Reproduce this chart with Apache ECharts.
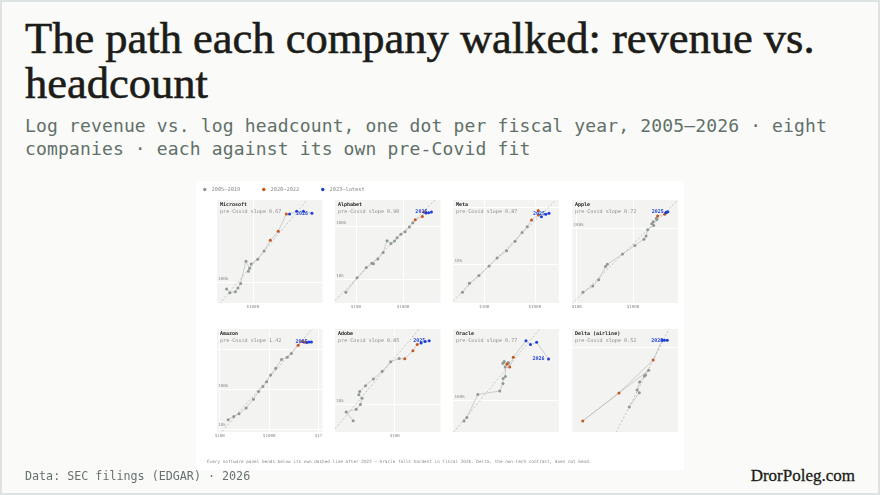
<!DOCTYPE html>
<html>
<head>
<meta charset="utf-8">
<title>The path each company walked: revenue vs. headcount</title>
<script src="https://cdn.jsdelivr.net/npm/echarts@6/dist/echarts.min.js"></script>
<style>
  html, body { margin: 0; padding: 0; }
  body { width: 880px; height: 495px; overflow: hidden; }
  .page { position: relative; width: 880px; height: 495px; background: #fafaf9; box-shadow: inset 0 0 0 2px #dde3e2; }
  h1 { position: absolute; left: 25px; top: 16px; margin: 0; font-family: 'Liberation Serif', serif; font-weight: normal; font-size: 44.5px; line-height: 45px; color: #1c1c18; white-space: nowrap; -webkit-text-stroke: 0.6px #1c1c18; }
  .sub { position: absolute; left: 25px; top: 115px; margin: 0; font-family: 'DejaVu Sans Mono', monospace; font-size: 18px; line-height: 22.5px; letter-spacing: 0.15px; color: #617068; white-space: nowrap; }
  .source { position: absolute; left: 25px; top: 469px; font-family: 'DejaVu Sans Mono', monospace; font-size: 11.7px; line-height: 14px; color: #66716e; }
  .brand { position: absolute; right: 25px; top: 466px; font-family: 'Liberation Serif', serif; font-size: 17px; line-height: 20px; color: #1c1c18; -webkit-text-stroke: 0.3px #1c1c18; }
  #chart { position: absolute; left: 196px; top: 181px; width: 488px; height: 289px; background: #fff; }
</style>
</head>
<body>
<div class="page">
  <h1>The path each company walked: revenue vs.<br>headcount</h1>
  <p class="sub">Log revenue vs. log headcount, one dot per fiscal year, 2005–2026 · eight<br>companies · each against its own pre-Covid fit</p>
  <div id="chart"></div>
  <div class="source">Data: SEC filings (EDGAR) · 2026</div>
  <div class="brand">DrorPoleg.com</div>
</div>
<script>
// revenue in $B, headcount in thousands, one entry per fiscal year
const eraLabels = ['2005–2019', '2020–2022', '2023–latest'];
const eraColors = ['#8e9894', '#c5561d', '#1d3fd6'];

const companyNames = ['Microsoft', 'Alphabet', 'Meta', 'Apple', 'Amazon', 'Adobe', 'Oracle', 'Delta (airline)'];
const preCovidSlope = [0.67, 0.90, 0.87, 0.72, 1.42, 0.85, 0.77, 0.52];

const msftYears = [2009, 2010, 2011, 2012, 2013, 2014, 2015, 2016, 2017, 2018, 2019, 2020, 2021, 2022, 2023, 2024, 2025, 2026];
const msftRevenue = [58.4, 62.5, 69.9, 73.7, 77.8, 86.8, 93.6, 91.2, 96.6, 110.4, 125.8, 143.0, 168.1, 198.3, 211.9, 245.1, 281.7, 335.0];
const msftHeadcount = [93, 89, 90, 94, 99, 128, 118, 114, 124, 131, 144, 163, 181, 221, 221, 228, 228, 223];

const googYears = [2005, 2006, 2007, 2008, 2009, 2010, 2011, 2012, 2013, 2014, 2015, 2016, 2017, 2018, 2019, 2020, 2021, 2022, 2023, 2024, 2025];
const googRevenue = [6.14, 10.6, 16.6, 21.8, 23.65, 29.3, 37.9, 46.0, 55.5, 66.0, 75.0, 90.3, 110.9, 136.8, 161.9, 182.5, 257.6, 282.8, 307.4, 350.0, 402.0];
const googHeadcount = [5.68, 10.67, 16.8, 20.2, 19.8, 24.4, 32.5, 53.9, 47.8, 53.6, 61.8, 72.0, 80.1, 98.8, 118.9, 135.3, 156.5, 190.2, 182.5, 183.3, 190.8];

const metaYears = [2011, 2012, 2013, 2014, 2015, 2016, 2017, 2018, 2019, 2020, 2021, 2022, 2023, 2024, 2025];
const metaRevenue = [3.71, 5.09, 7.87, 12.47, 17.93, 27.64, 40.65, 55.84, 70.7, 86.0, 117.9, 116.6, 134.9, 164.5, 190.0];
const metaHeadcount = [3.2, 4.6, 6.3, 9.2, 12.7, 17.0, 25.1, 35.6, 44.9, 58.6, 72.0, 86.5, 67.3, 74.1, 77.0];

const aaplYears = [2005, 2006, 2007, 2008, 2009, 2010, 2011, 2012, 2013, 2014, 2015, 2016, 2017, 2018, 2019, 2020, 2021, 2022, 2023, 2024, 2025];
const aaplRevenue = [12.9, 19.3, 24.6, 32.5, 35.0, 65.2, 108.2, 156.5, 170.9, 182.8, 233.7, 215.6, 229.2, 265.6, 260.2, 274.5, 365.8, 394.3, 383.3, 391.0, 416.2];
const aaplHeadcount = [14.8, 17.8, 21.6, 32.0, 34.3, 46.6, 60.4, 72.8, 80.3, 97.0, 110.0, 116.0, 123.0, 132.0, 137.0, 147.0, 154.0, 164.0, 161.0, 164.0, 166.0];

const amznYears = [2007, 2008, 2009, 2010, 2011, 2012, 2013, 2014, 2015, 2016, 2017, 2018, 2019, 2020, 2021, 2022, 2023, 2024, 2025];
const amznRevenue = [14.8, 19.2, 24.5, 34.2, 48.1, 61.1, 74.5, 89.0, 107.0, 136.0, 177.9, 232.9, 280.5, 386.1, 469.8, 514.0, 574.8, 638.0, 717.0];
const amznHeadcount = [17.0, 20.7, 24.3, 33.7, 56.2, 88.4, 117.3, 154.1, 230.8, 341.4, 566.0, 647.5, 798.0, 1298.0, 1608.0, 1541.0, 1525.0, 1556.0, 1576.0];

const adbeYears = [2008, 2009, 2010, 2011, 2012, 2013, 2014, 2015, 2016, 2017, 2018, 2019, 2020, 2021, 2022, 2023, 2024, 2025];
const adbeRevenue = [3.52, 2.95, 3.80, 4.22, 4.40, 4.06, 4.15, 4.80, 5.85, 7.30, 9.03, 11.17, 12.87, 15.79, 17.61, 19.41, 21.51, 23.77];
const adbeHeadcount = [7.4, 8.66, 9.1, 9.9, 11.1, 11.8, 12.5, 13.9, 15.7, 17.97, 21.4, 22.6, 22.5, 26.0, 29.2, 29.9, 30.7, 31.2];

const orclYears = [2008, 2009, 2010, 2011, 2012, 2013, 2014, 2015, 2016, 2017, 2018, 2019, 2020, 2021, 2022, 2023, 2024, 2025, 2026];
const orclRevenue = [22.4, 23.25, 26.8, 35.6, 37.1, 37.2, 38.3, 38.2, 37.05, 37.7, 39.8, 39.5, 39.07, 40.5, 42.4, 50.0, 53.0, 57.4, 67.0];
const orclHeadcount = [84.2, 86.7, 105, 108, 115, 120, 122, 132, 136, 138, 137, 136, 135, 132, 143, 164, 159, 162, 141];

const dalYears = [2013, 2014, 2015, 2016, 2017, 2018, 2019, 2020, 2021, 2022, 2023, 2024, 2025];
const dalRevenue = [35.0, 40.9, 39.5, 41.1, 44.2, 45.0, 47.2, 17.1, 29.9, 50.6, 58.1, 60.2, 62.9];
const dalHeadcount = [78.3, 83.1, 84.0, 86.8, 89.0, 89.3, 91.1, 74.0, 83.0, 95.0, 103, 103, 103];

const companies = [
  { years: msftYears, revenue: msftRevenue, headcount: msftHeadcount },
  { years: googYears, revenue: googRevenue, headcount: googHeadcount },
  { years: metaYears, revenue: metaRevenue, headcount: metaHeadcount },
  { years: aaplYears, revenue: aaplRevenue, headcount: aaplHeadcount },
  { years: amznYears, revenue: amznRevenue, headcount: amznHeadcount },
  { years: adbeYears, revenue: adbeRevenue, headcount: adbeHeadcount },
  { years: orclYears, revenue: orclRevenue, headcount: orclHeadcount },
  { years: dalYears, revenue: dalRevenue, headcount: dalHeadcount }
];

// each panel has its own log window ($B across, thousands up)
const axisWindows = [
  { x: [48, 416], y: [79, 260] },
  { x: [3.6, 627], y: [3.55, 322] },
  { x: [2.45, 297], y: [2.08, 131.5] },
  { x: [8.35, 626], y: [10.7, 237] },
  { x: [8.8, 1200], y: [8.35, 3334] },
  { x: [2.23, 31.6], y: [6.04, 38.5] },
  { x: [19.5, 76.5], y: [76.8, 181] },
  { x: [14.55, 74.0], y: [70.7, 107.9] }
];

const panelLeft = [21, 139, 257.3, 376.3];
const panelTop = [19, 148];
const panelWidth = 105.5;
const panelHeight = 103;
const mono = '"DejaVu Sans Mono", monospace';

function eraOf(year) {
  if (year <= 2019) return 0;
  if (year <= 2022) return 1;
  return 2;
}

function isPow10(v) {
  const p = Math.log10(v);
  return Math.abs(p - Math.round(p)) < 1e-6;
}

function revenueLabel(v) {
  if (!isPow10(v)) return '';
  return v >= 1000 ? '$' + Math.round(v / 1000) + 'T' : '$' + Math.round(v) + 'B';
}

function headcountLabel(win) {
  return function (v) {
    if (!isPow10(v)) return '';
    const f = (Math.log10(v) - Math.log10(win[0])) / (Math.log10(win[1]) - Math.log10(win[0]));
    if (f > 0.76) return ''; // would sit under the panel title
    return v >= 1000 ? Math.round(v / 1000) + 'M' : Math.round(v) + 'k';
  };
}

var dom = document.getElementById('chart');
var myChart = echarts.init(dom, null, { renderer: 'canvas' });

const grids = [], xAxes = [], yAxes = [], series = [], graphics = [];

companies.forEach(function (c, i) {
  const left = panelLeft[i % 4];
  const top = panelTop[Math.floor(i / 4)];
  const win = axisWindows[i];

  grids.push({
    left: left, top: top, width: panelWidth, height: panelHeight,
    show: true, backgroundColor: '#f3f3f1', borderWidth: 0,
    containLabel: false, outerBoundsMode: 'none'
  });

  xAxes.push({
    type: 'log', logBase: 10, gridIndex: i, min: win.x[0], max: win.x[1],
    axisLine: { show: false }, axisTick: { show: false },
    splitLine: { show: true, showMinLine: false, showMaxLine: false, lineStyle: { color: '#ffffff', width: 1 } },
    axisLabel: { formatter: revenueLabel, fontSize: 4.2, color: '#8c8c8c', fontFamily: mono, margin: 2 }
  });

  yAxes.push({
    type: 'log', logBase: 10, gridIndex: i, min: win.y[0], max: win.y[1],
    axisLine: { show: false }, axisTick: { show: false },
    splitLine: { show: true, showMinLine: false, showMaxLine: false, lineStyle: { color: '#ffffff', width: 1 } },
    axisLabel: {
      inside: true, formatter: headcountLabel(win.y), fontSize: 4.2, color: '#8c8c8c',
      fontFamily: mono, margin: 1.3, verticalAlign: 'bottom', lineHeight: 7
    }
  });

  const pts = c.years.map(function (y, k) { return [c.revenue[k], c.headcount[k]]; });

  // the walk, year by year
  series.push({
    type: 'line', xAxisIndex: i, yAxisIndex: i, data: pts,
    showSymbol: false, symbol: 'none', silent: true, z: 2,
    lineStyle: { color: '#bcbcbc', width: 0.7 }
  });

  // pre-Covid fit: the stated slope through the centroid of the 2005-2019 years
  let sx = 0, sy = 0, n = 0;
  c.years.forEach(function (y, k) {
    if (y <= 2019) {
      sx += Math.log10(c.revenue[k]);
      sy += Math.log10(c.headcount[k]);
      n++;
    }
  });
  const mx = sx / n, my = sy / n, s = preCovidSlope[i];
  const fit = win.x.map(function (x) { return [x, Math.pow(10, my + s * (Math.log10(x) - mx))]; });
  series.push({
    type: 'line', xAxisIndex: i, yAxisIndex: i, data: fit,
    showSymbol: false, symbol: 'none', silent: true, z: 1, clip: true,
    lineStyle: { color: '#a3a3a3', width: 0.6, type: [2, 2] }
  });

  eraLabels.forEach(function (name, e) {
    const data = [];
    c.years.forEach(function (y, k) {
      if (eraOf(y) !== e) return;
      const item = { value: pts[k] };
      if (k === c.years.length - 1) {
        item.label = {
          show: true, position: 'left', distance: 2.5, formatter: String(y),
          color: eraColors[2], fontSize: 5, fontWeight: 'bold', fontFamily: mono
        };
      }
      data.push(item);
    });
    series.push({
      name: name, type: 'scatter', xAxisIndex: i, yAxisIndex: i, data: data,
      symbolSize: 3, z: 3, itemStyle: { color: eraColors[e], opacity: 1 }
    });
  });

  // panel heading sits above the gridlines
  const tx = Math.round(left + 3);
  graphics.push({
    type: 'text', x: tx, y: top + 5, z: 100,
    style: { text: companyNames[i], font: 'bold 5px ' + mono, fill: '#222222', verticalAlign: 'middle', align: 'left' }
  });
  graphics.push({
    type: 'text', x: tx, y: top + 11.7, z: 100,
    style: { text: 'pre-Covid slope ' + preCovidSlope[i].toFixed(2), font: '5.1px ' + mono, fill: '#8e8e8e', verticalAlign: 'middle', align: 'left' }
  });
});

graphics.push({
  type: 'text', x: 11, y: 281.3, z: 100,
  style: {
    text: 'Every software panel bends below its own dashed line after 2022 — Oracle falls hardest in fiscal 2026. Delta, the non-tech contrast, does not bend.',
    font: '4.35px ' + mono, fill: '#8a8a8a', verticalAlign: 'middle', align: 'left'
  }
});

var option = {
  animation: false,
  backgroundColor: '#ffffff',
  legend: {
    data: eraLabels, left: 7, top: 6, padding: 0, itemGap: 21.8,
    icon: 'circle', itemWidth: 3.5, itemHeight: 3.5,
    textStyle: { fontSize: 5.3, color: '#8a8a8a', fontFamily: mono }
  },
  grid: grids,
  xAxis: xAxes,
  yAxis: yAxes,
  series: series,
  graphic: graphics
};

if (option && typeof option === 'object') {
  myChart.setOption(option);
}
</script>
</body>
</html>
